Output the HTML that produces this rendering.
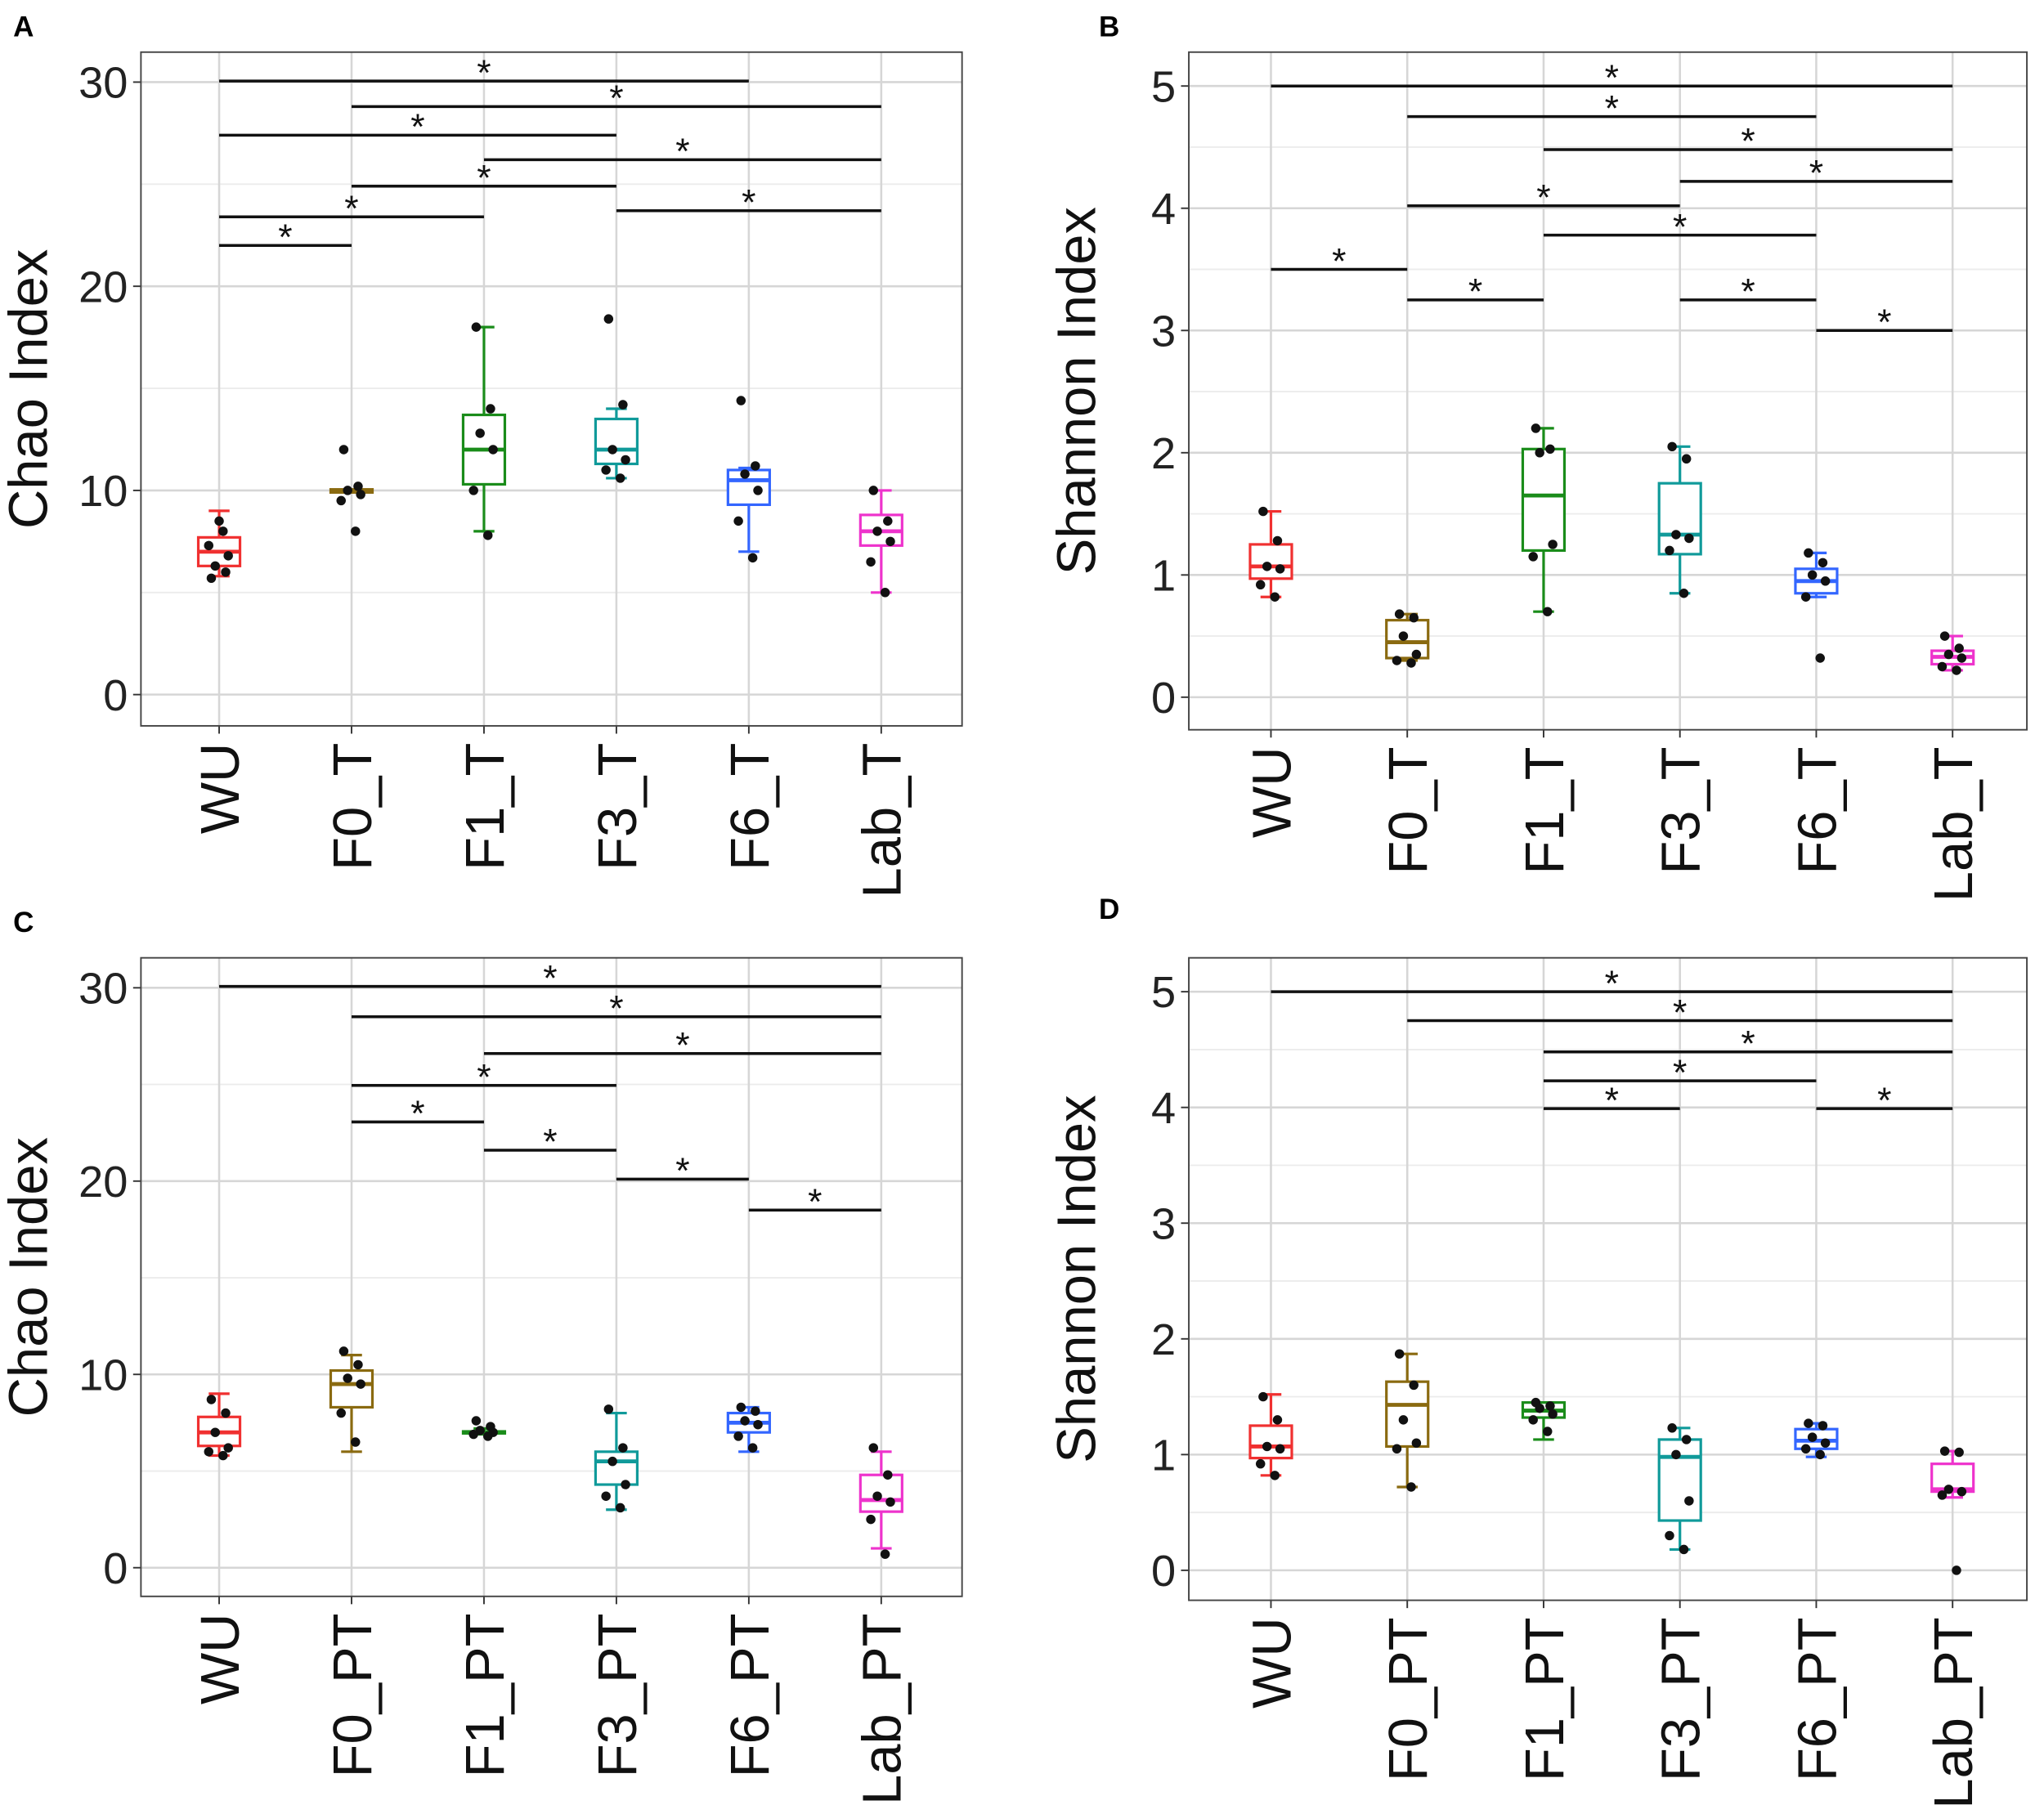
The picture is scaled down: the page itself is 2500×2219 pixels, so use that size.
<!DOCTYPE html>
<html><head><meta charset="utf-8"><style>
html,body{margin:0;padding:0;background:#fff;}
svg{display:block;font-family:"Liberation Sans",sans-serif;}
</style></head><body>
<svg id="fig" width="2500" height="2219" viewBox="0 0 1568 1392" xmlns="http://www.w3.org/2000/svg"></svg>
<script>
const NS="http://www.w3.org/2000/svg";
const colors=["#f03030","#8a6a10","#1a8c1a","#109a9a","#3366ff","#ee33cc"];
// Panel A
const catsA=["WU","F0_T","F1_T","F3_T","F6_T","Lab_T"];
const boxA=[[5.8,6.3,7,7.7,9],[10,9.9,10,10.05,10],[8,10.3,12,13.7,18],[10.6,11.3,12,13.5,14],[7,9.3,10.5,11,11.1],[5,7.3,8,8.8,10]];
const ptsA=[[5.7,6,6.3,6.8,7.3,8,8.5],[12,10.2,10,9.8,9.5,8],[18,14,12.8,12,10,7.8],[18.4,14.2,12,11.5,11,10.6],[14.4,11.2,10.8,10,8.5,6.7],[10,8.5,8,7.5,6.5,5]];
const sigA=[[0,4,30.05],[1,5,28.8],[0,3,27.4],[2,5,26.2],[1,3,24.9],[0,2,23.4],[3,5,23.7],[0,1,22.0]];
const ticksA=[0,10,20,30];
// Panel B
const catsB=["WU","F0_T","F1_T","F3_T","F6_T","Lab_T"];
const boxB=[[0.82,0.97,1.07,1.25,1.52],[0.3,0.32,0.45,0.63,0.68],[0.7,1.2,1.65,2.03,2.2],[0.85,1.17,1.33,1.75,2.05],[0.82,0.85,0.95,1.05,1.18],[0.22,0.27,0.33,0.38,0.5]];
const ptsB=[[1.52,1.28,1.07,1.05,0.92,0.82],[0.68,0.65,0.5,0.35,0.3,0.28],[2.2,2.03,2.0,1.25,1.15,0.7],[2.05,1.95,1.33,1.3,1.2,0.85],[1.18,1.1,1.0,0.95,0.82,0.32],[0.5,0.4,0.35,0.32,0.25,0.22]];
const sigB=[[0,5,5.0],[1,4,4.75],[2,5,4.48],[3,5,4.22],[1,3,4.02],[2,4,3.78],[0,1,3.5],[1,2,3.25],[3,4,3.25],[4,5,3.0]];
const ticksB=[0,1,2,3,4,5];
// Panel C
const catsC=["WU","F0_PT","F1_PT","F3_PT","F6_PT","Lab_PT"];
const boxC=[[5.8,6.3,7,7.8,9],[6,8.3,9.5,10.2,11],[6.9,6.95,7,7.05,7.2],[3,4.3,5.5,6,8],[6,7,7.5,8,8.3],[1,2.9,3.5,4.8,6]];
const ptsC=[[8.7,8,7,6.2,6,5.8],[11.2,10.5,9.8,9.5,8,6.5],[7.6,7.3,7.1,7,6.9,6.8],[8.2,6.2,5.5,4.3,3.7,3.1],[8.3,8.1,7.6,7.4,6.8,6.2],[6.2,4.8,3.7,3.4,2.5,0.7]];
const sigC=[[0,5,30.07],[1,5,28.5],[2,5,26.6],[1,3,24.95],[1,2,23.06],[2,3,21.6],[3,4,20.1],[4,5,18.5]];
const ticksC=[0,10,20,30];
// Panel D
const catsD=["WU","F0_PT","F1_PT","F3_PT","F6_PT","Lab_PT"];
const boxD=[[0.82,0.97,1.07,1.25,1.52],[0.72,1.07,1.43,1.63,1.87],[1.13,1.32,1.38,1.45,1.45],[0.18,0.43,0.98,1.13,1.23],[0.98,1.05,1.12,1.22,1.27],[0.63,0.68,0.7,0.92,1.03]];
const ptsD=[[1.5,1.3,1.07,1.05,0.92,0.82],[1.87,1.6,1.3,1.1,1.05,0.72],[1.45,1.42,1.4,1.35,1.3,1.2],[1.23,1.13,1.0,0.6,0.3,0.18],[1.27,1.25,1.15,1.1,1.05,1.0],[1.03,1.02,0.7,0.68,0.65,0.0]];
const sigD=[[0,5,5.0],[1,5,4.75],[2,5,4.48],[2,4,4.23],[2,3,3.99],[4,5,3.99]];
const ticksD=[0,1,2,3,4,5];

const svg=document.getElementById("fig");
function mk(tag,attrs,parent){const e=document.createElementNS(NS,tag);for(const k in attrs)e.setAttribute(k,attrs[k]);(parent||svg).appendChild(e);return e;}

function panel(cfg){
  const g=mk("g",{});
  
  
  const y=v=>cfg.y0+(cfg.y1-cfg.y0)*(v/cfg.vmax);
  const x=i=>cfg.x0+i*cfg.dx;
  const rect=mk("rect",{x:cfg.L,y:cfg.T,width:cfg.R-cfg.L,height:cfg.B-cfg.T,fill:"#fff"},g);
  
  
  const step=cfg.ticks[1]-cfg.ticks[0];
  for(let v=step/2;v<cfg.vmax+step;v+=step){const py=y(v);if(py>cfg.T&&py<cfg.B)mk("line",{x1:cfg.L,x2:cfg.R,y1:py,y2:py,stroke:"#ececec","stroke-width":1.2},g);}
  cfg.ticks.forEach(v=>{const l=mk("line",{x1:cfg.L,x2:cfg.R,y1:y(v),y2:y(v),stroke:"#d6d6d6","stroke-width":1.6},g);
    
    const t=mk("text",{x:cfg.L-10,y:y(v)+12,"text-anchor":"end","font-size":34,fill:"#222"},g);t.textContent=v;
    
    mk("line",{x1:cfg.L-6,x2:cfg.L,y1:y(v),y2:y(v),stroke:"#333","stroke-width":1.2},g);});
  cfg.cats.forEach((c,i)=>{mk("line",{x1:x(i),x2:x(i),y1:cfg.T,y2:cfg.B,stroke:"#d6d6d6","stroke-width":1.6},g);
    mk("line",{x1:x(i),x2:x(i),y1:cfg.B,y2:cfg.B+6,stroke:"#333","stroke-width":1.2},g);
    const t=mk("text",{x:0,y:0,"text-anchor":"end","font-size":42,fill:"#111",transform:`translate(${x(i)+15},${cfg.B+13}) rotate(-90)`},g);t.textContent=c;
    });
  const tt=mk("text",{x:0,y:0,"text-anchor":"middle","font-size":42,fill:"#111",transform:`translate(${cfg.L-72},${(cfg.T+cfg.B)/2}) rotate(-90)`},g);tt.textContent=cfg.title;
  
  cfg.box.forEach((b,i)=>{const c=colors[i];const bg=mk("g",{},g);
    
    const w=16,cx=x(i);
    mk("line",{x1:cx,x2:cx,y1:y(b[0]),y2:y(b[1]),stroke:c,"stroke-width":2},bg);
    mk("line",{x1:cx,x2:cx,y1:y(b[3]),y2:y(b[4]),stroke:c,"stroke-width":2},bg);
    mk("line",{x1:cx-8,x2:cx+8,y1:y(b[0]),y2:y(b[0]),stroke:c,"stroke-width":2},bg);
    mk("line",{x1:cx-8,x2:cx+8,y1:y(b[4]),y2:y(b[4]),stroke:c,"stroke-width":2},bg);
    mk("rect",{x:cx-w,y:y(b[3]),width:2*w,height:Math.max(1,y(b[1])-y(b[3])),fill:"#fff",stroke:c,"stroke-width":2},bg);
    mk("line",{x1:cx-w,x2:cx+w,y1:y(b[2]),y2:y(b[2]),stroke:c,"stroke-width":3},bg);
    const offs=[-6,5,-3,7,-8,3,0];
    cfg.pts[i].forEach((p,j)=>{const d=mk("circle",{cx:cx+offs[j%offs.length],cy:y(p),r:3.6,fill:"#111"},bg);
      });
  });
  cfg.sig.forEach(s=>{const py=y(s[2]);
    const l=mk("line",{x1:x(s[0]),x2:x(s[1]),y1:py,y2:py,stroke:"#111","stroke-width":2.2},g);
    
    const t=mk("text",{x:(x(s[0])+x(s[1]))/2,y:py+3,"text-anchor":"middle","font-size":28,fill:"#111"},g);t.textContent="*";
    });
  mk("rect",{x:cfg.L,y:cfg.T,width:cfg.R-cfg.L,height:cfg.B-cfg.T,fill:"none",stroke:"#444","stroke-width":1.2},g);
  const lt=mk("text",{x:cfg.lx,y:cfg.ly,"font-size":22,"font-weight":"bold",fill:"#000"},g);lt.textContent=cfg.letter;
  
}
panel({letter:"A",lx:10,ly:28,L:108,R:738,T:40,B:557,y0:533,y1:63,vmax:30,x0:168,dx:101.6,cats:catsA,box:boxA,pts:ptsA,sig:sigA,ticks:ticksA,title:"Chao Index"});
panel({letter:"B",lx:843,ly:28,L:912,R:1555,T:40,B:560,y0:535,y1:66,vmax:5,x0:975,dx:104.6,cats:catsB,box:boxB,pts:ptsB,sig:sigB,ticks:ticksB,title:"Shannon Index"});
panel({letter:"C",lx:10,ly:715,L:108,R:738,T:735,B:1225,y0:1203,y1:758,vmax:30,x0:168,dx:101.6,cats:catsC,box:boxC,pts:ptsC,sig:sigC,ticks:ticksC,title:"Chao Index"});
panel({letter:"D",lx:843,ly:705,L:912,R:1555,T:735,B:1228,y0:1205,y1:761,vmax:5,x0:975,dx:104.6,cats:catsD,box:boxD,pts:ptsD,sig:sigD,ticks:ticksD,title:"Shannon Index"});
</script>
</body></html>
